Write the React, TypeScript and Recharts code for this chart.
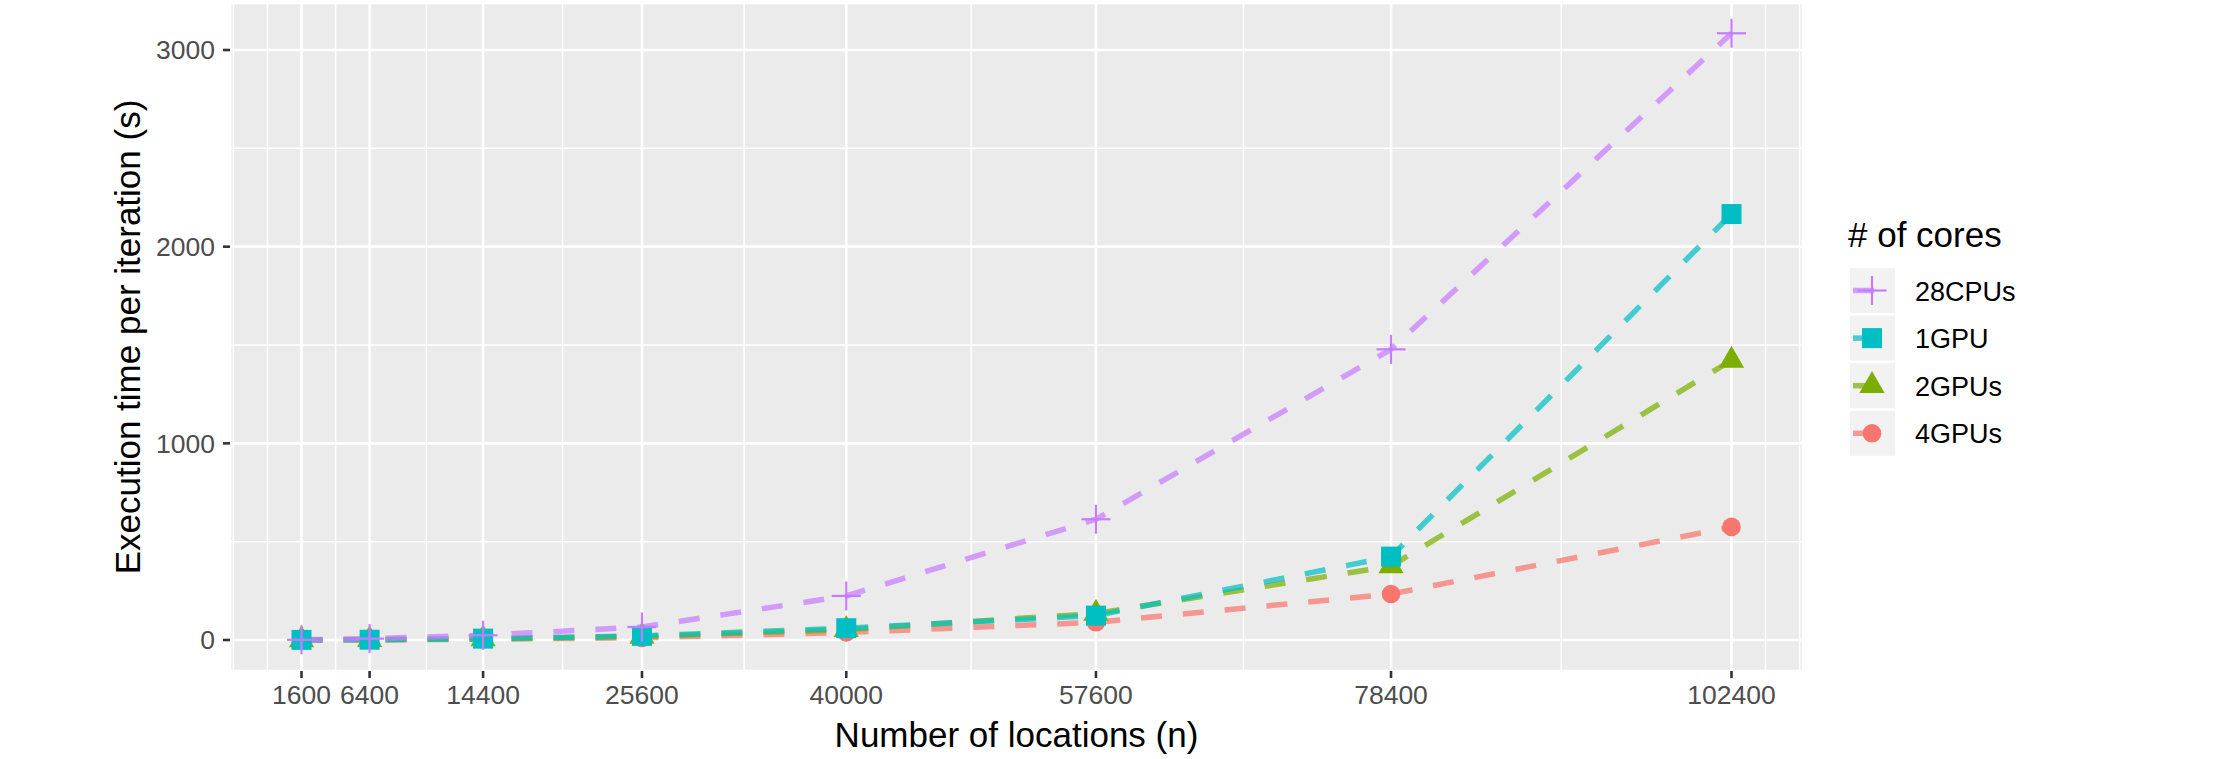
import React from 'react';
import { LineChart, Line, XAxis, YAxis, CartesianGrid, Legend } from 'recharts';

const locations = [1600, 6400, 14400, 25600, 40000, 57600, 78400, 102400];
const cpu28 = [1, 7, 24, 66, 224, 614, 1478, 3085];
const gpu1 = [0.5, 1.5, 7, 21, 60, 124, 424, 2166];
const gpu2 = [0.3, 1, 6, 18, 53, 135, 376, 1422];
const gpu4 = [0.2, 0.8, 4, 11, 38, 90, 234, 575];

const xTicks = [1600, 6400, 14400, 25600, 40000, 57600, 78400, 102400];
const yTicks = [0, 1000, 2000, 3000];
const xMinorTicks = [-3200, -800, 4000, 10400, 20000, 32800, 48800, 68000, 90400, 104800, 107200];
const yMinorTicks = [500, 1500, 2500];

const legendTitle = '# of cores';
const xTitle = 'Number of locations (n)';
const yTitle = 'Execution time per iteration (s)';

const data = locations.map((n, i) => ({
  n,
  cpu28: cpu28[i],
  gpu1: gpu1[i],
  gpu2: gpu2[i],
  gpu4: gpu4[i],
}));

const FONT = '"Liberation Sans", Arial, Helvetica, sans-serif';

type Shape = 'plus' | 'square' | 'triangle' | 'circle';

const series: { key: string; name: string; color: string; shape: Shape }[] = [
  { key: 'cpu28', name: '28CPUs', color: '#C77CFF', shape: 'plus' },
  { key: 'gpu1', name: '1GPU', color: '#00BFC4', shape: 'square' },
  { key: 'gpu2', name: '2GPUs', color: '#7CAE00', shape: 'triangle' },
  { key: 'gpu4', name: '4GPUs', color: '#F8766D', shape: 'circle' },
];

// drawing order (ggplot group order): 4GPUs, 2GPUs, 1GPU, 28CPUs
const drawOrder = ['gpu4', 'gpu2', 'gpu1', 'cpu28'];

function Marker({ shape, color, cx, cy }: { shape: Shape; color: string; cx: number; cy: number }) {
  if (shape === 'plus') {
    const h = 14.5;
    return (
      <g>
        <line x1={cx - h} y1={cy} x2={cx + h} y2={cy} stroke={color} strokeWidth={2.2} />
        <line x1={cx} y1={cy - h} x2={cx} y2={cy + h} stroke={color} strokeWidth={2.2} />
      </g>
    );
  }
  if (shape === 'square') {
    const s = 20;
    return <rect x={cx - s / 2} y={cy - s / 2} width={s} height={s} fill={color} />;
  }
  if (shape === 'triangle') {
    const r = 14.6;
    const xc = 12.6;
    return (
      <polygon
        points={`${cx},${cy - r} ${cx + xc},${cy + r / 2} ${cx - xc},${cy + r / 2}`}
        fill={color}
      />
    );
  }
  return <circle cx={cx} cy={cy} r={9.3} fill={color} />;
}

const makeDot = (shape: Shape, color: string) => (props: any) => {
  const { cx, cy, index } = props;
  if (cx == null || cy == null) return <g key={`d-${index}`} />;
  return (
    <g key={`d-${index}`}>
      <Marker shape={shape} color={color} cx={cx} cy={cy} />
    </g>
  );
};

const renderXTitle = (props: any) => {
  const vb = props.viewBox || { x: 230, y: 671, width: 1573, height: 88 };
  return (
    <text x={vb.x + vb.width / 2} y={vb.y + 76} textAnchor="middle" fontSize={35} fill="#000" fontFamily={FONT}>
      {xTitle}
    </text>
  );
};

const renderYTitle = (props: any) => {
  const vb = props.viewBox || { x: 0, y: 3, width: 230, height: 668 };
  const x = vb.x + 140;
  const y = vb.y + vb.height / 2;
  return (
    <text
      x={x}
      y={y}
      textAnchor="middle"
      fontSize={35}
      fill="#000"
      fontFamily={FONT}
      transform={`rotate(-90, ${x}, ${y})`}
    >
      {yTitle}
    </text>
  );
};

const renderLegend = () => {
  const rowTop = 68;
  const pitch = 47.6;
  return (
    <svg width={300} height={270} style={{ display: 'block' }}>
      <text x={8} y={47} fontSize={35} fill="#000" fontFamily={FONT}>
        {legendTitle}
      </text>
      {series.map((s, i) => {
        const top = rowTop + pitch * i;
        const cy = top + 22.5;
        return (
          <g key={s.key}>
            <rect x={10} y={top} width={45} height={45} fill="#F2F2F2" />
            <line
              x1={13}
              y1={cy}
              x2={52}
              y2={cy}
              stroke={s.color}
              strokeOpacity={0.72}
              strokeWidth={5.5}
              strokeDasharray="21 21"
            />
            <Marker shape={s.shape} color={s.color} cx={32} cy={cy} />
            <text x={75} y={cy + 10} fontSize={27} fill="#000" fontFamily={FONT}>
              {s.name}
            </text>
          </g>
        );
      })}
    </svg>
  );
};

export default function App() {
  const ordered = drawOrder.map((k) => series.find((s) => s.key === k)!);
  return (
    <div
      style={{
        position: 'absolute',
        left: 0,
        top: 0,
        width: 2223,
        height: 759,
        background: '#FFFFFF',
        fontFamily: FONT,
      }}
    >
      <LineChart width={2223} height={759} data={data} margin={{ top: 3, right: 420, left: 0, bottom: 0 }}>
        <CartesianGrid
          fill="#EBEBEB"
          stroke="#FFFFFF"
          strokeWidth={1.5}
          horizontalValues={yMinorTicks}
          verticalValues={xMinorTicks}
        />
        <CartesianGrid stroke="#FFFFFF" strokeWidth={2.6} />
        <XAxis
          type="number"
          dataKey="n"
          domain={[-3440, 107440]}
          allowDataOverflow
          ticks={xTicks}
          interval={0}
          height={88}
          axisLine={false}
          tickSize={7}
          tickMargin={7}
          tickLine={{ stroke: '#333333', strokeWidth: 2.6 }}
          tick={{ fill: '#4D4D4D', fontSize: 26.5, fontFamily: FONT }}
          label={renderXTitle}
        />
        <YAxis
          type="number"
          domain={[-157.6, 3239]}
          allowDataOverflow
          ticks={yTicks}
          interval={0}
          width={230}
          axisLine={false}
          tickSize={7}
          tickMargin={8}
          tickLine={{ stroke: '#333333', strokeWidth: 2.6 }}
          tick={{ fill: '#4D4D4D', fontSize: 26.5, fontFamily: FONT }}
          label={renderYTitle}
        />
        {ordered.map((s) => (
          <Line
            key={`line-${s.key}`}
            type="linear"
            dataKey={s.key}
            stroke={s.color}
            strokeOpacity={0.72}
            strokeWidth={5.5}
            strokeDasharray="21 21"
            dot={false}
            activeDot={false}
            legendType="none"
            isAnimationActive={false}
          />
        ))}
        {ordered.map((s) => (
          <Line
            key={`pts-${s.key}`}
            type="linear"
            dataKey={s.key}
            stroke="none"
            strokeWidth={0}
            dot={makeDot(s.shape, s.color)}
            activeDot={false}
            legendType="none"
            isAnimationActive={false}
          />
        ))}
        <Legend
          layout="horizontal"
          align="center"
          verticalAlign="middle"
          content={renderLegend}
          wrapperStyle={{ position: 'absolute', left: 1840, top: 200, width: 300, height: 270 }}
        />
      </LineChart>
    </div>
  );
}
